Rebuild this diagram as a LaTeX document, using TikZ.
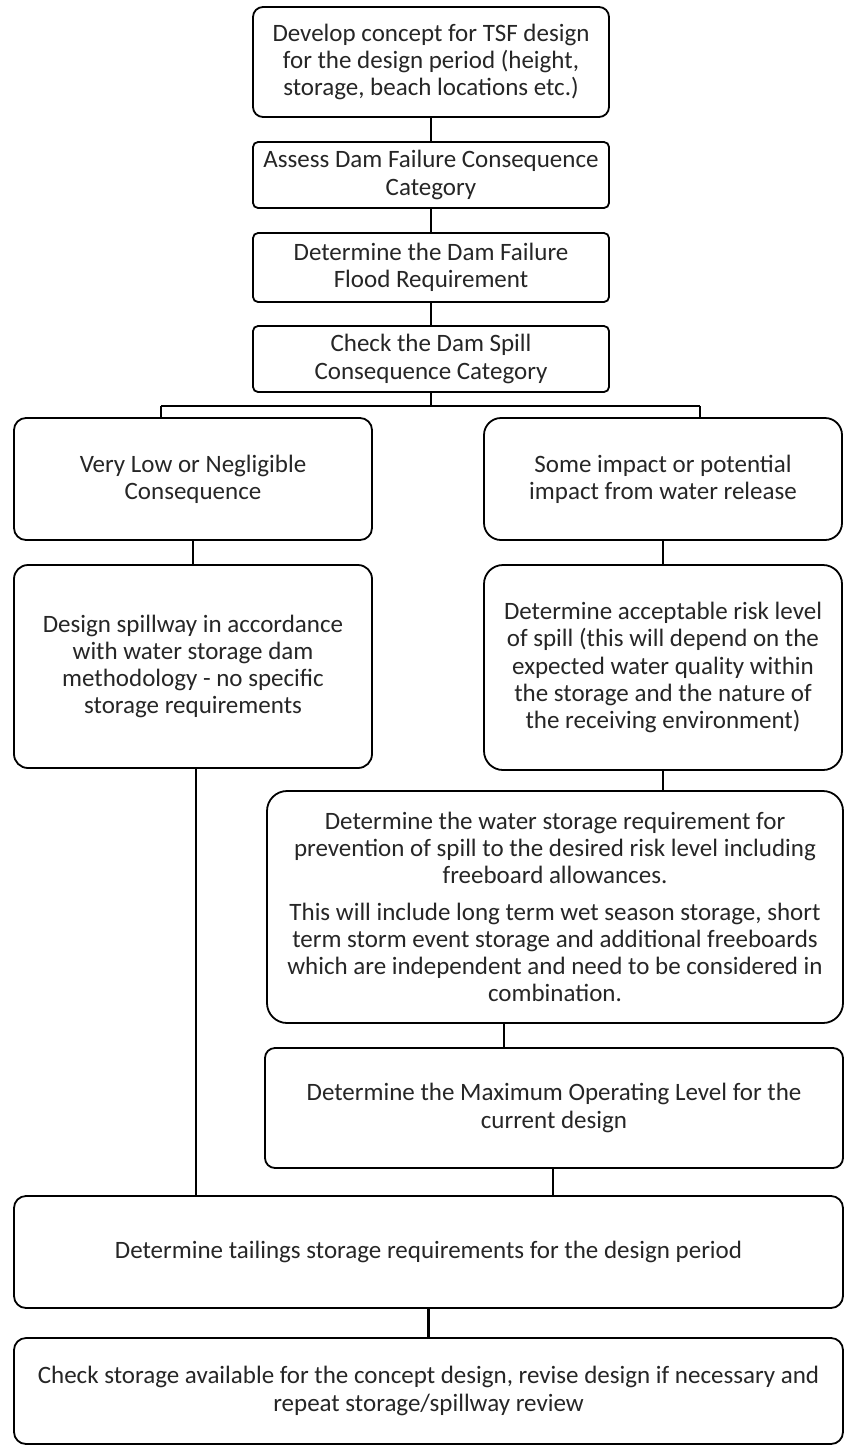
\documentclass[tikz,border=0pt]{standalone}
\usepackage{fontspec}
\setmainfont{Carlito}
\usetikzlibrary{calc}
\begin{document}
\begin{tikzpicture}[x=1pt,y=-1pt,
  box/.style={draw, line width=1.8pt, align=center, inner sep=0pt,
    text=black!85, font=\fontsize{25}{27.3}\selectfont},
  conn/.style={line width=2.8pt},
  thin/.style={line width=1.8pt}]
\useasboundingbox (0,0) rectangle (845,1446);
\fill[white] (0,0) rectangle (845,1446);

\node[box, rounded corners=10pt, minimum width=356pt, minimum height=110pt] (n1) at (431,62)
  {Develop concept for TSF design\\for the design period (height,\\storage, beach locations etc.)};
\node[box, rounded corners=5pt, minimum width=356pt, minimum height=66pt] (n2) at (431,175)
  {Assess Dam Failure Consequence\\Category};
\node[box, rounded corners=5pt, minimum width=356pt, minimum height=69pt] (n3) at (431,267.5)
  {Determine the Dam Failure\\Flood Requirement};
\node[box, rounded corners=5pt, minimum width=356pt, minimum height=66pt] (n4) at (431,359)
  {Check the Dam Spill\\Consequence Category};

\node[box, rounded corners=12pt, minimum width=358pt, minimum height=122pt] (n5) at (193,479)
  {Very Low or Negligible\\Consequence};
\node[box, rounded corners=17pt, minimum width=358pt, minimum height=122pt] (n6) at (663,479)
  {Some impact or potential\\impact from water release};

\node[box, rounded corners=14pt, minimum width=358pt, minimum height=203pt] (n7) at (193,666.5)
  {Design spillway in accordance\\with water storage dam\\methodology - no specific\\storage requirements};
\node[box, rounded corners=19pt, minimum width=358pt, minimum height=205pt] (n8) at (663,667.5)
  {Determine acceptable risk level\\of spill (this will depend on the\\expected water quality within\\the storage and the nature of\\the receiving environment)};

\node[box, rounded corners=20pt, minimum width=576pt, minimum height=232pt] (n9) at (555,907)
  {Determine the water storage requirement for\\prevention of spill to the desired risk level including\\freeboard allowances.\\[9pt]This will include long term wet season storage, short\\term storm event storage and additional freeboards\\which are independent and need to be considered in\\combination.};
\node[box, rounded corners=10pt, minimum width=578pt, minimum height=120pt] (n10) at (554,1108)
  {Determine the Maximum Operating Level for the\\current design};

\node[box, rounded corners=12pt, minimum width=829pt, minimum height=112pt] (n11) at (428.5,1252)
  {Determine tailings storage requirements for the design period};
\node[box, rounded corners=12pt, minimum width=829pt, minimum height=106pt] (n12) at (428.5,1391)
  {Check storage available for the concept design, revise design if necessary and\\repeat storage/spillway review};

% connectors
\draw[conn] (n1) -- (n2);
\draw[conn] (n2) -- (n3);
\draw[conn] (n3) -- (n4);
\coordinate (sl) at (161,406);
\coordinate (sr) at (700,406);
\draw[conn] (n4.south) -- (n4.south |- sl);
\draw[thin] (sl) -- (sr);
\draw[thin] (sl) -- (sl |- n5.north);
\draw[thin] (sr) -- (sr |- n6.north);
\draw[conn] (n5) -- (n7);
\draw[conn] (n6) -- (n8);
\draw[conn] (n8.south) -- (n8.south |- n9.north);
\coordinate (k1) at (504,0);
\draw[conn] (k1 |- n9.south) -- (k1 |- n10.north);
\coordinate (k2) at (553,0);
\draw[conn] (k2 |- n10.south) -- (k2 |- n11.north);
\coordinate (k3) at (196,0);
\draw[thin] (k3 |- n7.south) -- (k3 |- n11.north);
\draw[conn] (n11) -- (n12);
\end{tikzpicture}
\end{document}
